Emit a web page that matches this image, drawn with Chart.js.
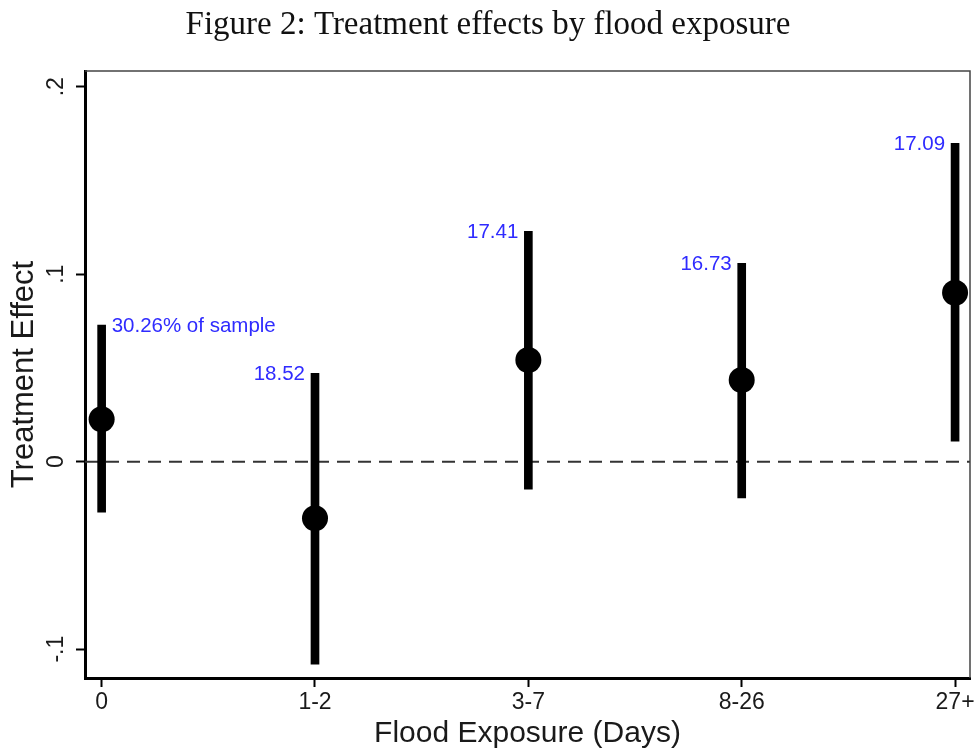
<!DOCTYPE html>
<html>
<head>
<meta charset="utf-8">
<script src="https://cdn.jsdelivr.net/npm/chart.js@4.4.1/dist/chart.umd.min.js"></script>
<style>
  html, body { margin: 0; padding: 0; background: #fff; }
</style>
</head>
<body>
<canvas id="chart" width="978" height="752"></canvas>
<script>
// values
const categories = ["0", "1-2", "3-7", "8-26", "27+"]
const estimates = [0.0226, -0.0302, 0.0542, 0.0436, 0.0901]
const ciLow = [-0.027, -0.108, -0.0147, -0.0194, 0.011]
const ciHigh = [0.0729, 0.0471, 0.1229, 0.1058, 0.1698]
const shareLabels = ["30.26% of sample", "18.52", "17.41", "16.73", "17.09"]
const yTicks = [-0.1, 0, 0.1, 0.2]
const yTickLabels = ["-.1", "0", ".1", ".2"]

const FONT = "'Liberation Sans', Arial, sans-serif"

const extras = {
    id: 'extras',
    beforeDatasetsDraw(chart) {
        const { ctx, chartArea: a, scales: { y } } = chart
        const y0 = y.getPixelForValue(0)
        ctx.save()
        // dashed zero line
        ctx.strokeStyle = '#333'
        ctx.lineWidth = 2
        ctx.setLineDash([13, 8])
        ctx.beginPath()
        ctx.moveTo(a.left, y0)
        ctx.lineTo(a.right, y0)
        ctx.stroke()
        // thin top and right frame
        ctx.setLineDash([])
        ctx.lineWidth = 1.5
        ctx.strokeStyle = '#444'
        ctx.beginPath()
        ctx.moveTo(a.left, a.top)
        ctx.lineTo(a.right, a.top)
        ctx.lineTo(a.right, a.bottom)
        ctx.stroke()
        ctx.restore()
    },
    afterDatasetsDraw(chart) {
        const { ctx, scales: { x, y } } = chart
        ctx.save()
        // sample share labels at top of each interval
        ctx.fillStyle = '#2f2bff'
        ctx.font = '20.5px ' + FONT
        ctx.textBaseline = 'middle'
        shareLabels.forEach((t, i) => {
            const px = x.getPixelForValue(i)
            const py = y.getPixelForValue(ciHigh[i]) + 1
            if (i === 0) {
                ctx.textAlign = 'left'
                ctx.fillText(t, px + 10, py)
            } else {
                ctx.textAlign = 'right'
                ctx.fillText(t, px - 10, py)
            }
        })
        // rotated y tick labels
        ctx.fillStyle = '#1a1a1a'
        ctx.font = '23px ' + FONT
        ctx.textAlign = 'center'
        ctx.textBaseline = 'alphabetic'
        yTicks.forEach((v, i) => {
            ctx.save()
            ctx.translate(63, y.getPixelForValue(v))
            ctx.rotate(-Math.PI / 2)
            ctx.fillText(yTickLabels[i], 0, 0)
            ctx.restore()
        })
        // figure title
        ctx.fillStyle = '#111'
        ctx.font = "33px 'Liberation Serif', 'Times New Roman', serif"
        ctx.textAlign = 'center'
        ctx.fillText('Figure 2: Treatment effects by flood exposure', 488, 34)
        ctx.restore()
    }
}

const ctx = document.getElementById('chart').getContext('2d')

const chart = new Chart(ctx, {
    type: 'bar',
    data: {
        datasets: [
            {
                type: 'scatter',
                label: 'Estimate',
                data: estimates.map((v, i) => ({ x: i, y: v })),
                pointRadius: 13,
                pointHoverRadius: 13,
                backgroundColor: '#000',
                borderColor: '#000',
                borderWidth: 0,
                order: 0
            },
            {
                type: 'bar',
                label: 'CI',
                data: ciLow.map((v, i) => ({ x: i, y: [v, ciHigh[i]] })),
                backgroundColor: '#000',
                borderWidth: 0,
                barThickness: 8,
                order: 1
            }
        ]
    },
    options: {
        responsive: false,
        animation: false,
        layout: { autoPadding: false, padding: { top: 71, right: 8, left: 0, bottom: 0 } },
        plugins: {
            legend: { display: false },
            tooltip: { enabled: false }
        },
        scales: {
            x: {
                type: 'linear',
                min: -0.078,
                max: 4.07,
                offset: false,
                afterBuildTicks: s => { s.ticks = categories.map((c, i) => ({ value: i })) },
                afterFit: s => { s.height = 74; s.paddingLeft = 0; s.paddingRight = 0 },
                ticks: {
                    callback: v => categories[v],
                    font: { family: FONT, size: 23 },
                    color: '#1a1a1a',
                    padding: 2,
                    maxRotation: 0,
                    autoSkip: false
                },
                grid: {
                    offset: false,
                    drawOnChartArea: false,
                    tickLength: 9,
                    tickWidth: 2,
                    tickColor: '#000'
                },
                border: { display: true, color: '#000', width: 3 },
                title: {
                    display: true,
                    text: 'Flood Exposure (Days)',
                    font: { family: FONT, size: 30 },
                    color: '#1a1a1a',
                    padding: { top: 0, bottom: 0 }
                }
            },
            y: {
                type: 'linear',
                min: -0.1154,
                max: 0.2084,
                afterBuildTicks: s => { s.ticks = yTicks.map(v => ({ value: v })) },
                afterFit: s => { s.width = 85 },
                ticks: { display: false },
                grid: {
                    drawOnChartArea: false,
                    tickLength: 9,
                    tickWidth: 2,
                    tickColor: '#000'
                },
                border: { display: true, color: '#000', width: 3 },
                title: {
                    display: true,
                    text: 'Treatment Effect',
                    font: { family: FONT, size: 31 },
                    color: '#1a1a1a',
                    padding: { top: 6, bottom: 0 }
                }
            }
        }
    },
    plugins: [extras]
})
</script>
</body>
</html>
